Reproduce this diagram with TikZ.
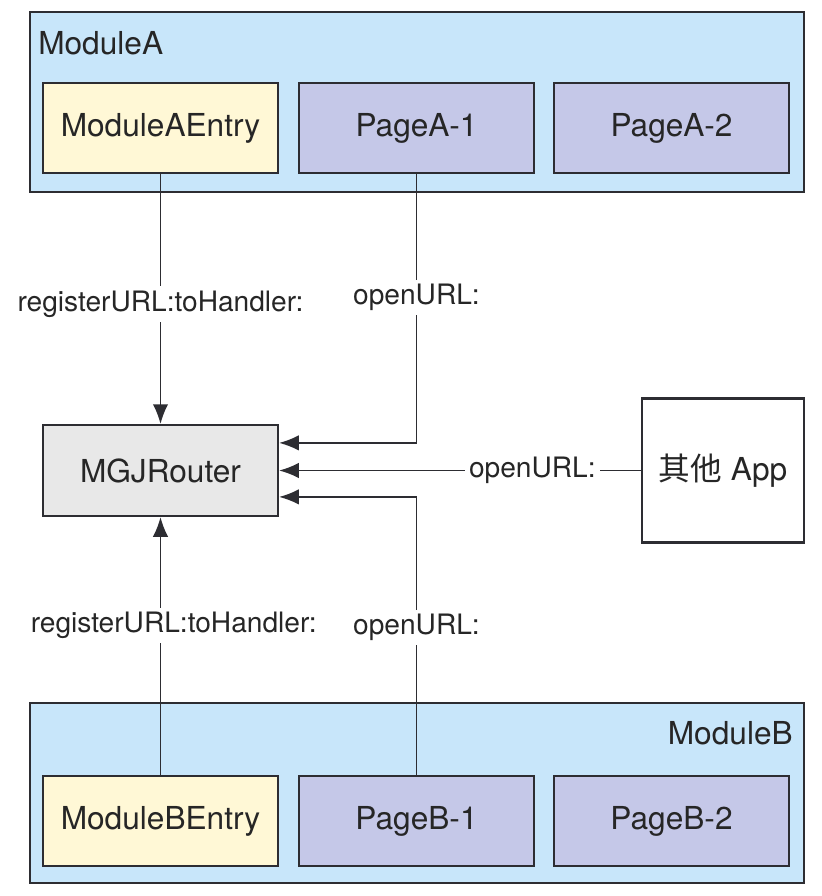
\documentclass[tikz,border=0pt]{standalone}
\usepackage{fontspec}
\setmainfont{TeX Gyre Heros}
\newfontfamily\cjk{Noto Sans CJK SC}
\usetikzlibrary{arrows.meta}
\definecolor{modfill}{RGB}{200,230,250}
\definecolor{entfill}{RGB}{255,248,214}
\definecolor{pagefill}{RGB}{197,200,232}
\definecolor{routfill}{RGB}{232,232,232}
\definecolor{edge}{RGB}{45,45,50}
\tikzset{
  module/.style={draw=edge, line width=1.5pt, fill=modfill, minimum width=19.35cm, minimum height=4.5cm},
  box/.style={draw=edge, line width=1.5pt, minimum width=5.875cm, minimum height=2.25cm, text=black!85, font=\fontsize{22.5}{27}\selectfont},
  entry/.style={box, fill=entfill},
  page/.style={box, fill=pagefill},
  modlabel/.style={inner sep=0pt, text=black!85, font=\fontsize{22.5}{27}\selectfont},
  lbl/.style={fill=white, inner sep=3pt, text=black!85, font=\fontsize{20}{24}\selectfont},
  arr/.style={edge, line width=1.3pt, -{Latex[length=14pt,width=11pt]}}
}
\begin{document}
\begin{tikzpicture}[x=0.025cm,y=-0.025cm]
 \useasboundingbox[fill=white] (0,0) rectangle (822,896);

 % module A
 \node[module] (modA) at (417,102) {};
 \node[modlabel, anchor=west] (labA) at (38,43) {ModuleA};
 \node[entry] (entA) at (160.5,128) {ModuleAEntry};
 \node[page] (pgA1) at (416.5,128) {PageA-1};
 \node[page] (pgA2) at (671.5,128) {PageA-2};

 % router and other app
 \node[box, fill=routfill, minimum height=2.275cm] (router) at (160.5,470.5) {MGJRouter};
 \node[box, fill=white, minimum width=4.05cm, minimum height=3.6cm] (app) at (723,470.5) {{\cjk 其他} App};

 % module B
 \node[module] (modB) at (417,793) {};
 \node[modlabel, anchor=east] (labB) at (793,733) {ModuleB};
 \node[entry] (entB) at (160.5,821) {ModuleBEntry};
 \node[page] (pgB1) at (416.5,821) {PageB-1};
 \node[page] (pgB2) at (671.5,821) {PageB-2};

 % calls
 \draw[arr] (entA) -- node[lbl, pos=0.52] {registerURL:toHandler:} (router);
 \draw[arr] (pgA1) |- node[lbl, pos=0.23] {openURL:} ([yshift=0.69cm]router.east);
 \draw[arr] (app) -- node[lbl, pos=0.3] {openURL:} (router);
 \draw[arr] (pgB1) |- node[lbl, pos=0.265] {openURL:} ([yshift=-0.66cm]router.east);
 \draw[arr] (entB) -- node[lbl, pos=0.58, xshift=0.33cm] {registerURL:toHandler:} (router);

\end{tikzpicture}
\end{document}
